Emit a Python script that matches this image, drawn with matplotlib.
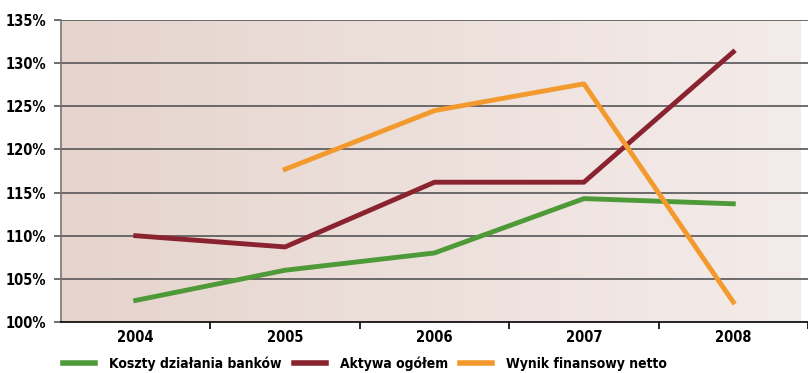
import numpy as np
import matplotlib.pyplot as plt
from matplotlib.colors import LinearSegmentedColormap

years = ['2004', '2005', '2006', '2007', '2008']
koszty = [102.5, 106.0, 108.0, 114.3, 113.7]
aktywa = [110.0, 108.7, 116.2, 116.2, 131.3]
wynik = [np.nan, 117.7, 124.5, 127.6, 102.3]
y_ticks = [100, 105, 110, 115, 120, 125, 130, 135]

plt.rcParams['font.family'] = ['DejaVu Sans']
plt.rcParams['font.stretch'] = 'condensed'

fig = plt.figure(figsize=(8.08, 3.73), dpi=100)
ax = fig.add_axes([61 / 808, 1 - 322 / 373, 747 / 808, 302 / 373])

x = np.arange(len(years))
xmin, xmax = -0.5, -0.5 + 747 / 151

# tło z gradientem
bg = LinearSegmentedColormap.from_list('bg', ['#e6d4cd', '#f4ecea'])
ax.imshow(np.linspace(0, 1, 256).reshape(1, -1), cmap=bg, aspect='auto',
          extent=[xmin, xmax, 100, 135], zorder=0)

for v in y_ticks[1:]:
    ax.axhline(v, color='#555555', lw=1.2, zorder=1)

ax.plot(x, koszty, color='#4f9a38', lw=3.5, zorder=3, label='Koszty działania banków')
ax.plot(x, aktywa, color='#8a2330', lw=3.5, zorder=3, label='Aktywa ogółem')
ax.plot(x, wynik, color='#f39a2e', lw=3.5, zorder=3, label='Wynik finansowy netto')

ax.set_xlim(xmin, xmax)
ax.set_ylim(100, 135)
ax.set_yticks(y_ticks)
ax.set_yticklabels([f'{v}%' for v in y_ticks])
ax.set_xticks(x)
ax.set_xticklabels(years)
ax.set_xticks(np.arange(len(years)) + 0.5, minor=True)
ax.tick_params(axis='x', which='major', length=0, pad=6, labelsize=10.5)
ax.tick_params(axis='x', which='minor', length=5, width=1.2, color='black')
ax.tick_params(axis='y', length=5, width=1.2, color='#555555', labelsize=10.5, pad=6)
for lab in ax.get_xticklabels() + ax.get_yticklabels():
    lab.set_fontweight('bold')

for s in ['top', 'right']:
    ax.spines[s].set_visible(False)
ax.spines['left'].set_color('#777777')
ax.spines['left'].set_linewidth(1.2)
ax.spines['bottom'].set_color('black')
ax.spines['bottom'].set_linewidth(1.2)

leg = fig.legend(loc='lower left', bbox_to_anchor=(63 / 808, 0.005), ncol=3, frameon=False,
                 borderpad=0, borderaxespad=0,
                 handlelength=2.3, columnspacing=0.9, handletextpad=1.0,
                 prop={'size': 10, 'weight': 'bold'})
for line in leg.get_lines():
    line.set_linewidth(4)

fig.savefig('out.png', dpi=100)
